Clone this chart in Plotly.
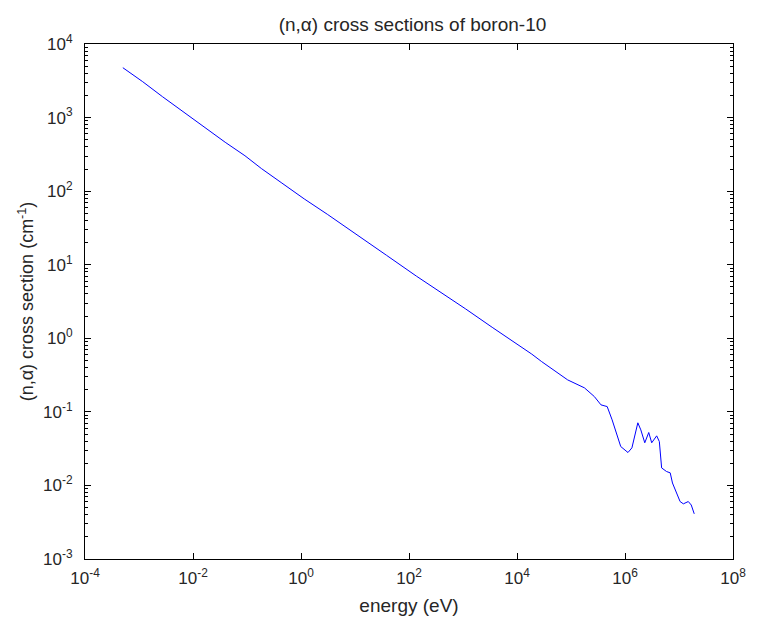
import plotly.graph_objects as go

# Data
energy_eV = [
    5.02e-4, 1.17e-3, 2.72e-3, 6.31e-3, 1.69e-2, 3.94e-2, 9.16e-2, 0.1845, 0.4285, 1.148,
    3.07, 10.9, 25.3, 38.5, 137, 484, 1125, 3467, 6081, 12300, 18750, 28600,
    86700, 177400, 270500, 358900, 467700, 577800, 833700, 1.135e6, 1.343e6, 1.729e6,
    1.963e6, 2.323e6, 2.752e6, 3.124e6, 3.857e6, 4.323e6, 4.767e6, 5.878e6, 6.875e6,
    7.570e6, 1.047e7, 1.204e7, 1.486e7, 1.687e7, 1.915e7,
]
cross_section = [
    4764, 3075, 1923, 1225, 715, 462, 303, 203, 131, 78.4,
    48.5, 25.8, 16.9, 13.4, 7.0, 3.8, 2.5, 1.41, 1.07, 0.75, 0.61, 0.482,
    0.272, 0.212, 0.1614, 0.1245, 0.118, 0.0778, 0.0338, 0.0280, 0.0324, 0.0710,
    0.0569, 0.0380, 0.0524, 0.0380, 0.0472, 0.0395, 0.0173, 0.01545, 0.01483,
    0.01079, 0.00604, 0.00562, 0.00604, 0.00542, 0.00411,
]

x_tick_exps = [-4, -2, 0, 2, 4, 6, 8]
y_tick_exps = [-3, -2, -1, 0, 1, 2, 3, 4]

title_text = "(n,α) cross sections of boron-10"
x_title = "energy (eV)"
y_title = "(n,α) cross section (cm<sup>-1</sup>)"

FONT = "Liberation Sans, Arial, sans-serif"
TXT = "#262626"

x_tickvals = [10.0 ** e for e in x_tick_exps]
x_ticktext = ["10<sup>%d</sup>" % e for e in x_tick_exps]
y_tickvals = [10.0 ** e for e in y_tick_exps]
y_ticktext = ["10<sup>%d</sup>" % e for e in y_tick_exps]
y_minor = [m * 10.0 ** e for e in y_tick_exps[:-1] for m in range(2, 10)]

fig = go.Figure()
fig.add_trace(go.Scatter(
    x=energy_eV, y=cross_section, mode="lines",
    line=dict(color="#0000ff", width=1), showlegend=False,
))

axis_common = dict(
    type="log", showline=True, linecolor="black", linewidth=1,
    mirror="ticks", ticks="inside", ticklen=6, tickcolor="black",
    showgrid=False, zeroline=False,
    tickfont=dict(family=FONT, size=17, color=TXT),
)

fig.update_xaxes(
    **axis_common,
    range=[-4, 8], tickmode="array", tickvals=x_tickvals, ticktext=x_ticktext,
    ticklabelstandoff=4,
    title=dict(text=x_title, font=dict(family=FONT, size=19, color=TXT), standoff=11),
)
fig.update_yaxes(
    **axis_common,
    range=[-3, 4], tickmode="array", tickvals=y_tickvals, ticktext=y_ticktext,
    ticklabelstandoff=8,
    minor=dict(tickmode="array", tickvals=y_minor, ticks="inside", ticklen=3, tickcolor="black"),
    title=dict(text=y_title, font=dict(family=FONT, size=18, color=TXT), standoff=4),
)

fig.update_layout(
    width=758, height=625,
    margin=dict(l=85, r=18, t=44, b=66),
    paper_bgcolor="white", plot_bgcolor="white",
    title=dict(text=title_text, x=412.5 / 758, xanchor="center",
               y=1 - 24 / 625, yanchor="middle", yref="container",
               font=dict(family=FONT, size=19, color=TXT)),
)

fig.write_html(
    "out.html",
    config={"displayModeBar": False},
    post_script="document.body.style.margin='0';document.body.style.overflow='hidden';",
)
